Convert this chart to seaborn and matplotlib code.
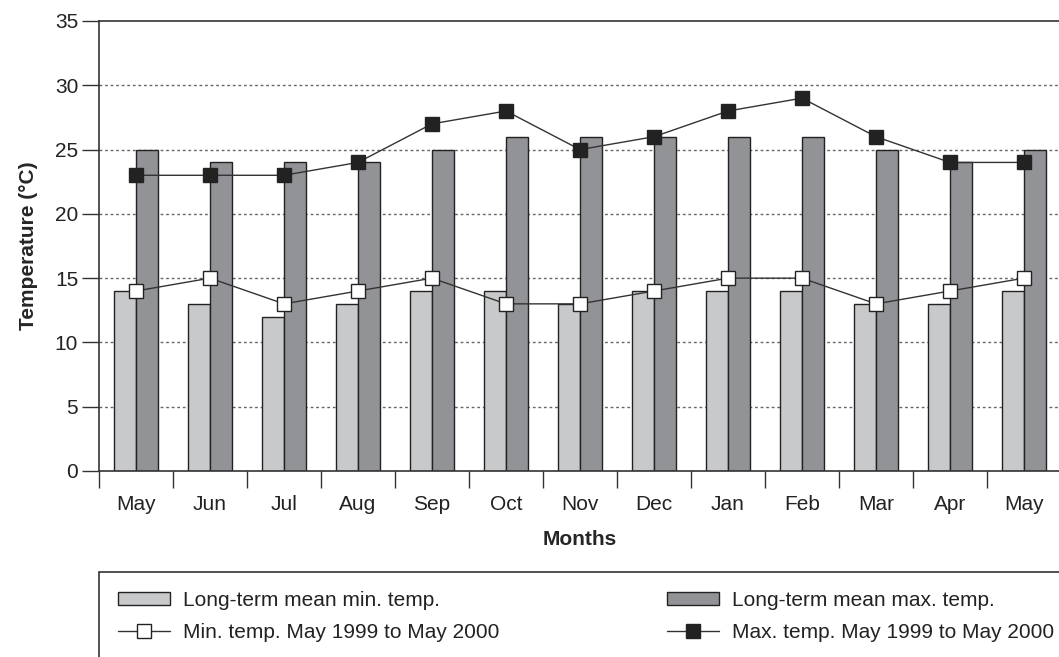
"""Monthly temperatures: long-term means (bars) vs. May 1999 - May 2000 (lines)."""

import matplotlib
matplotlib.use("Agg")
import matplotlib.pyplot as plt
from matplotlib.patches import Patch, Rectangle
from matplotlib.lines import Line2D
import pandas as pd
import seaborn as sns

MONTHS = ["May", "Jun", "Jul", "Aug", "Sep", "Oct", "Nov", "Dec",
          "Jan", "Feb", "Mar", "Apr", "May"]
LT_MIN = [14, 13, 12, 13, 14, 14, 13, 14, 14, 14, 13, 13, 14]
LT_MAX = [25, 24, 24, 24, 25, 26, 26, 26, 26, 26, 25, 24, 25]
MIN_9900 = [14, 15, 13, 14, 15, 13, 13, 14, 15, 15, 13, 14, 15]
MAX_9900 = [23, 23, 23, 24, 27, 28, 25, 26, 28, 29, 26, 24, 24]

LBL_LT_MIN = "Long-term mean min. temp."
LBL_LT_MAX = "Long-term mean max. temp."
LBL_MIN = "Min. temp. May 1999 to May 2000"
LBL_MAX = "Max. temp. May 1999 to May 2000"

LIGHT = "#c8c9cb"
DARK = "#929396"
INK = "#222222"

sns.set_theme(style="white")
plt.rcParams["font.family"] = ["Liberation Sans", "DejaVu Sans"]
FS = 15

W, H = 1059, 657
fig = plt.figure(figsize=(W / 100, H / 100), dpi=100)
# axes box in pixels: left 99, top 21, bottom 471, 13 slots of ~74 px
ax = fig.add_axes([99 / W, (H - 471) / H, 962 / W, 450 / H])

idx = list(range(len(MONTHS)))
bars = pd.DataFrame({
    "idx": idx * 2,
    "temp": LT_MIN + LT_MAX,
    "series": [LBL_LT_MIN] * len(idx) + [LBL_LT_MAX] * len(idx),
})
sns.barplot(data=bars, x="idx", y="temp", hue="series", palette=[LIGHT, DARK],
            width=0.6, edgecolor=INK, linewidth=1.0, saturation=1, ax=ax,
            legend=False, zorder=2)

sns.lineplot(x=idx, y=MIN_9900, ax=ax, color="#333333", linewidth=1.0,
             marker="s", markersize=10, markerfacecolor="white",
             markeredgecolor=INK, markeredgewidth=1.0, zorder=4)
sns.lineplot(x=idx, y=MAX_9900, ax=ax, color="#333333", linewidth=1.0,
             marker="s", markersize=10, markerfacecolor=INK,
             markeredgecolor=INK, markeredgewidth=1.0, zorder=4)

ax.set_xlim(-0.5, len(MONTHS) - 0.5)
ax.set_ylim(0, 35)
ax.set_yticks(range(0, 36, 5))
ax.tick_params(axis="y", labelsize=FS, length=12, width=1, color="#333333",
               left=True, pad=3, labelcolor="#222222")
ax.set_xticks([i - 0.5 for i in idx] + [len(idx) - 0.5])
ax.set_xticklabels([])
ax.set_xticks(idx, minor=True)
ax.set_xticklabels(MONTHS, minor=True)
ax.tick_params(axis="x", which="major", length=12, width=1, color="#333333",
               bottom=True)
ax.tick_params(axis="x", which="minor", length=0, labelsize=FS, pad=17,
               labelcolor="#222222")

for y in range(5, 31, 5):
    ax.axhline(y, color="#666666", linewidth=1.0, linestyle=(0, (2, 2)), zorder=1)

for side in ["left", "top", "bottom"]:
    ax.spines[side].set_color("#333333")
    ax.spines[side].set_linewidth(1.2)
ax.spines["right"].set_visible(False)

ax.set_xlabel("Months", fontsize=FS, fontweight="bold", labelpad=12)
ax.set_ylabel("Temperature (°C)", fontsize=FS, fontweight="bold", labelpad=12)

# legend box below the chart (runs off the right and bottom edges)
fig.patches.append(Rectangle((99 / W, -0.05), 1.0, (H - 572) / H + 0.05,
                             transform=fig.transFigure, fill=False,
                             edgecolor="#333333", linewidth=1.2))

h_min_bar = Patch(facecolor=LIGHT, edgecolor=INK, linewidth=1.0, label=LBL_LT_MIN)
h_max_bar = Patch(facecolor=DARK, edgecolor=INK, linewidth=1.0, label=LBL_LT_MAX)
h_min = Line2D([], [], color="#333333", linewidth=1.0, marker="s", markersize=10,
               markerfacecolor="white", markeredgecolor=INK, label=LBL_MIN)
h_max = Line2D([], [], color="#333333", linewidth=1.0, marker="s", markersize=10,
               markerfacecolor=INK, markeredgecolor=INK, label=LBL_MAX)

leg_kw = dict(loc="upper left", frameon=False, fontsize=FS, handlelength=2.5,
              handleheight=0.6, handletextpad=0.6, labelspacing=0.6,
              borderpad=0, borderaxespad=0, labelcolor="#222222")
fig.legend(handles=[h_min_bar, h_min], bbox_to_anchor=(118 / W, (H - 591) / H),
           **leg_kw)
fig.legend(handles=[h_max_bar, h_max], bbox_to_anchor=(667 / W, (H - 591) / H),
           **leg_kw)

fig.savefig("out.png", dpi=100)
